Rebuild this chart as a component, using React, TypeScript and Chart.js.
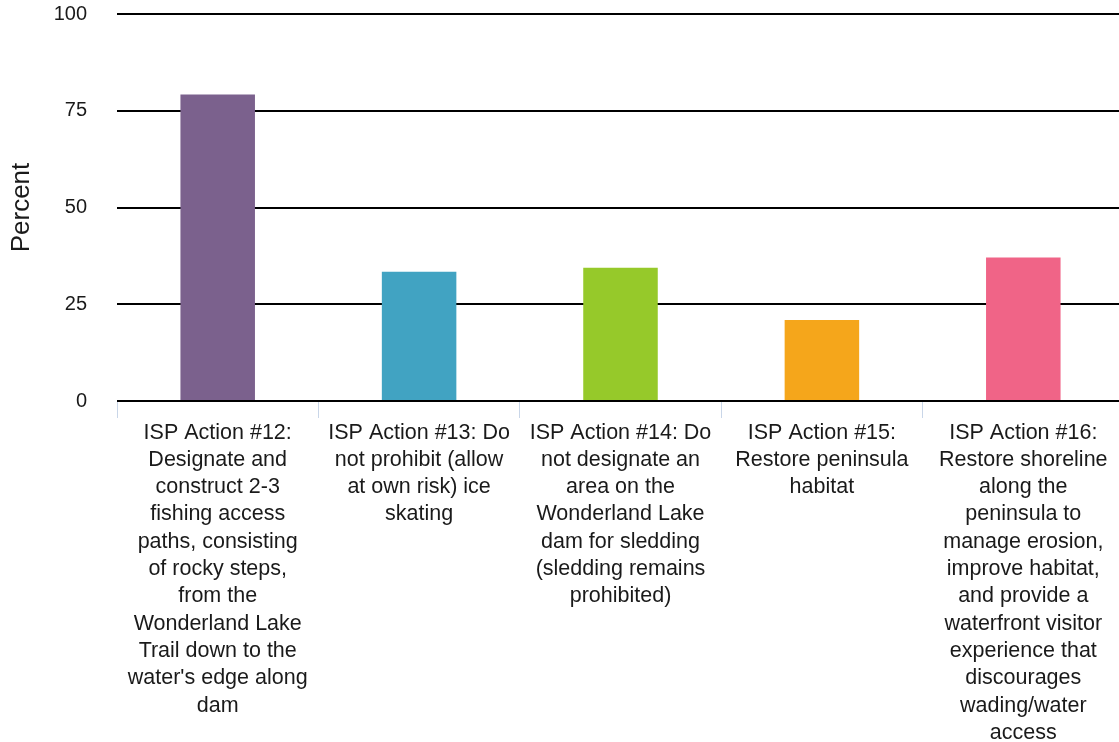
import React, { useEffect, useRef } from "react";
import { Chart, registerables } from "chart.js";

Chart.register(...registerables);

const categories: string[][] = [
  ["ISP Action #12:", "Designate and", "construct 2-3", "fishing access", "paths, consisting", "of rocky steps,", "from the", "Wonderland Lake", "Trail down to the", "water's edge along", "dam"],
  ["ISP Action #13: Do", "not prohibit (allow", "at own risk) ice", "skating"],
  ["ISP Action #14: Do", "not designate an", "area on the", "Wonderland Lake", "dam for sledding", "(sledding remains", "prohibited)"],
  ["ISP Action #15:", "Restore peninsula", "habitat"],
  ["ISP Action #16:", "Restore shoreline", "along the", "peninsula to", "manage erosion,", "improve habitat,", "and provide a", "waterfront visitor", "experience that", "discourages", "wading/water", "access"],
];

const percentValues: number[] = [79.2, 33.4, 34.4, 20.9, 37.1];

const barColors: string[] = ["#7b618d", "#41a3c2", "#96c92a", "#f5a61b", "#f06487"];

const yTicks: number[] = [0, 25, 50, 75, 100];

const FONT = "'Liberation Sans', Arial, Helvetica, sans-serif";

export default function App() {
  const canvasRef = useRef<HTMLCanvasElement | null>(null);

  useEffect(() => {
    if (!canvasRef.current) return;
    const chart = new Chart(canvasRef.current, {
      type: "bar",
      data: {
        labels: categories,
        datasets: [
          {
            label: "Percent",
            data: percentValues,
            backgroundColor: barColors,
            borderWidth: 0,
            categoryPercentage: 1,
            barPercentage: 0.37,
          },
        ],
      },
      options: {
        animation: false,
        responsive: true,
        maintainAspectRatio: false,
        layout: { padding: { top: 14, left: 0, right: 0, bottom: 0 } },
        plugins: {
          legend: { display: false },
          tooltip: { enabled: false },
        },
        scales: {
          x: {
            offset: true,
            border: { display: false },
            grid: {
              offset: true,
              drawOnChartArea: false,
              drawTicks: true,
              tickLength: 17,
              color: "#c9d6e8",
              lineWidth: 1,
            },
            ticks: {
              autoSkip: false,
              maxRotation: 0,
              minRotation: 0,
              padding: 1,
              color: "#1a1a1a",
              font: { family: FONT, size: 21.5, lineHeight: 27.3 / 21.5 },
            },
            afterFit: (scale: any) => {
              scale.height = 341;
              scale.paddingLeft = 0;
              scale.paddingRight = 0;
            },
          },
          y: {
            min: 0,
            max: 100,
            afterFit: (scale: any) => {
              scale.width = 117;
              scale.paddingTop = 0;
              scale.paddingBottom = 0;
            },
            afterBuildTicks: (scale: any) => {
              scale.ticks = yTicks.map((v) => ({ value: v }));
            },
            border: { display: false },
            grid: {
              color: "#000000",
              lineWidth: 2,
              drawTicks: false,
            },
            ticks: {
              padding: 30,
              color: "#1a1a1a",
              font: { family: FONT, size: 20 },
            },
            title: {
              display: true,
              text: "Percent",
              color: "#1a1a1a",
              font: { family: FONT, size: 26 },
              padding: { top: 6, bottom: 0 },
            },
          },
        },
      },
    });
    return () => chart.destroy();
  }, []);

  return (
    <div style={{ position: "fixed", left: 0, top: 0, width: 1119, height: 742, overflow: "hidden", background: "#fff" }}>
      <div style={{ position: "absolute", left: 0, top: 0, width: 1124, height: 742 }}>
        <canvas ref={canvasRef} />
      </div>
    </div>
  );
}
